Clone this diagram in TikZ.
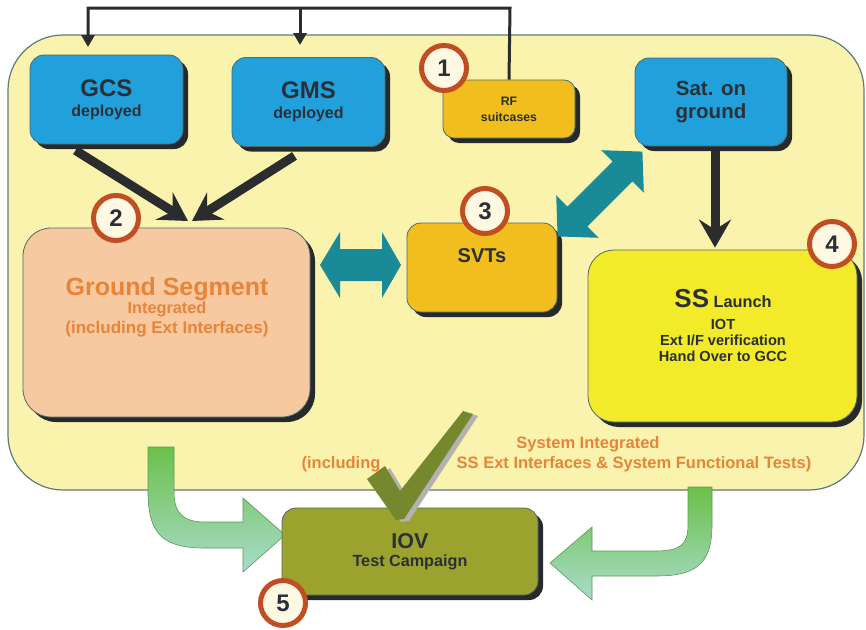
\documentclass[tikz,border=0pt]{standalone}
\usepackage{fontspec}
\setmainfont{Liberation Sans}
\usetikzlibrary{arrows.meta,shadows,calc}
\definecolor{bgY}{HTML}{F9F3AE}
\definecolor{bgB}{HTML}{5E7A78}
\definecolor{blueB}{HTML}{22A0DC}
\definecolor{goldB}{HTML}{F2BE1E}
\definecolor{peachB}{HTML}{F7C9A0}
\definecolor{yelB}{HTML}{F3EA2A}
\definecolor{oliveB}{HTML}{9BA32E}
\definecolor{tealA}{HTML}{1A8A96}
\definecolor{txt}{HTML}{2A3036}
\definecolor{otxt}{HTML}{E8843A}
\definecolor{circB}{HTML}{C04E22}
\definecolor{circF}{HTML}{FFF8E2}
\definecolor{checkC}{HTML}{76882E}
\definecolor{checkS}{HTML}{B4B2AE}
\definecolor{shadowC}{HTML}{262A2C}
\definecolor{boxB}{HTML}{4E6A6A}
\definecolor{grT}{HTML}{6CC04A}
\definecolor{grB}{HTML}{A8DCCB}
\definecolor{grD}{HTML}{5A9A5A}
\definecolor{arrowC}{HTML}{2A2C2E}
\begin{document}
\begin{tikzpicture}[x=1pt,y=-1pt,
  box/.style={rounded corners=14pt, draw=boxB, line width=0.8pt, inner sep=0pt,
    general shadow={fill=shadowC, shadow xshift=5pt, shadow yshift=-5pt},
    text=txt, align=center},
  numc/.style={circle, draw=circB, line width=5pt, fill=circF, minimum size=45pt, inner sep=0pt,
    font=\fontsize{24}{26}\selectfont\bfseries, text=txt},
  fat/.style={line width=9pt, draw=arrowC, -{Stealth[length=28pt, width=32pt, inset=10pt]}},
  wire/.style={line width=3pt, draw=arrowC, -{Triangle[length=12pt, width=13pt]}},
  otext/.style={text=otxt, font=\fontsize{16.5}{18}\selectfont\bfseries, inner sep=0pt, anchor=base},
  ltext/.style={text=txt, inner sep=0pt, anchor=base}
]
\useasboundingbox (0,0) rectangle (866,629);
\fill[white] (0,0) rectangle (866,629);

% background panel
\node[draw=bgB, line width=1.2pt, fill=bgY, rounded corners=55pt, minimum width=856pt, minimum height=455pt, inner sep=0pt] (bg) at (436,262.5) {};

% green curved arrows
\path[draw=grD, line width=0.6pt, top color=grT, bottom color=grB]
  (148,447) -- (148,492) .. controls (148,536) and (165,548) .. (205,548)
  -- (243,548) -- (243,572) -- (285,535) -- (243,498) -- (243,522)
  -- (205,522) .. controls (182,522) and (174,512) .. (174,492) -- (174,447) -- cycle;
\path[draw=grD, line width=0.6pt, top color=grT, bottom color=grB]
  (712,487) -- (712,525) .. controls (712,566) and (694,576) .. (655,576)
  -- (592,576) -- (592,600) -- (550,563) -- (592,527) -- (592,551)
  -- (655,551) .. controls (680,551) and (688,545) .. (688,525) -- (688,487) -- cycle;

% boxes
\node[box, fill=blueB, minimum width=153pt, minimum height=89pt, font=\fontsize{16}{20}\selectfont\bfseries] (gcs) at (106.5,99.5)
  {{\fontsize{24}{26}\selectfont GCS}\\deployed};
\node[box, fill=blueB, minimum width=153pt, minimum height=89pt, font=\fontsize{16}{20}\selectfont\bfseries] (gms) at (308.5,102)
  {{\fontsize{24}{26}\selectfont GMS}\\deployed};
\node[box, fill=goldB, minimum width=132pt, minimum height=58pt, rounded corners=11pt, font=\fontsize{12.3}{16}\selectfont\bfseries] (rf) at (509,109)
  {RF\\suitcases};
\node[box, fill=blueB, minimum width=152pt, minimum height=88pt, font=\fontsize{20.5}{23}\selectfont\bfseries] (sat) at (711,102)
  {Sat. on\\ground};
\node[box, fill=peachB, minimum width=287pt, minimum height=189pt, rounded corners=28pt] (gs) at (166.5,322.5) {};
\node[box, fill=goldB, minimum width=150pt, minimum height=89pt, text depth=24pt, font=\fontsize{20}{22}\selectfont\bfseries] (svt) at (482,267.5)
  {SVTs};
\node[box, fill=yelB, minimum width=269pt, minimum height=172pt, rounded corners=26pt] (ss) at (722.5,336) {};
\node[box, fill=oliveB, minimum width=256pt, minimum height=87pt, font=\fontsize{16.2}{18}\selectfont\bfseries] (iov) at (410,551.5)
  {{\fontsize{21.5}{24}\selectfont IOV}\\Test Campaign};

% texts inside the large boxes
\node[ltext, text=otxt, font=\fontsize{25}{27}\selectfont\bfseries] (gs1) at (167,295) {Ground Segment};
\node[ltext, text=otxt, font=\fontsize{16.3}{18}\selectfont\bfseries] (gs2) at (167,313) {Integrated};
\node[ltext, text=otxt, font=\fontsize{17}{19}\selectfont\bfseries] (gs3) at (167,333) {(including Ext Interfaces)};
\node[ltext, font=\bfseries] (ss1) at (723,307) {{\fontsize{26}{28}\selectfont SS}{\fontsize{16.3}{18}\selectfont{} Launch}};
\node[ltext, font=\fontsize{14.6}{16}\selectfont\bfseries] (ss2) at (723,329) {IOT};
\node[ltext, font=\fontsize{14.6}{16}\selectfont\bfseries] (ss3) at (723,345) {Ext I/F verification};
\node[ltext, font=\fontsize{14.6}{16}\selectfont\bfseries] (ss4) at (723,361) {Hand Over to GCC};

% top wire from RF suitcases
\coordinate (aG) at (88,47);
\coordinate (aM) at (300,45);
\coordinate (tR) at (510,8);
\draw[wire] (rf.north) -- (tR) -- (tR -| aG) -- (aG);
\draw[wire] (tR -| aM) -- (aM);

% thick black arrows
\coordinate (gsin) at (188,221);
\draw[fat] ($(gcs.south)+(-31,6)$) -- (gsin);
\draw[fat] ($(gms.south)+(-14,9)$) -- ($(gsin)+(4,0)$);
\draw[fat] ($(sat.south)+(4,5)$) -- ($(sat.south |- ss.north)+(4,-2)$);

% teal double arrows
\fill[tealA] (320,265) -- (340,232) -- (340,249) -- (382,249) -- (382,232) -- (401,265)
  -- (382,298) -- (382,281) -- (340,281) -- (340,298) -- cycle;
\fill[tealA] (557.6,236.4) -- (598.6,237.8) -- (587.3,226.5) -- (632.5,181.3) -- (643.8,192.6)
  -- (642.4,151.6) -- (601.4,150.2) -- (612.7,161.5) -- (567.5,206.7) -- (556.2,195.4) -- cycle;

% numbered circles
\node[numc] (c1) at (444,68) {1};
\node[numc] (c2) at (116,218) {2};
\node[numc] (c3) at (485,211) {3};
\node[numc] (c4) at (832,244) {4};
\node[numc] (c5) at (283,603) {5};

% bottom texts
\node[otext] (t1) at (588,448) {System Integrated};
\node[otext] (t2) at (341,468) {(including};
\node[otext] (t3) at (634,468) {SS Ext Interfaces \& System Functional Tests)};

% check mark
\fill[checkS] (372,481) -- (390,468) -- (405,493) -- (468,413) -- (478,416) -- (409,521) -- (401,522) -- cycle;
\fill[checkC] (367,479) -- (385,466) -- (400,491) -- (463,411) -- (473,414) -- (404,519) -- (396,520) -- cycle;
\end{tikzpicture}
\end{document}
